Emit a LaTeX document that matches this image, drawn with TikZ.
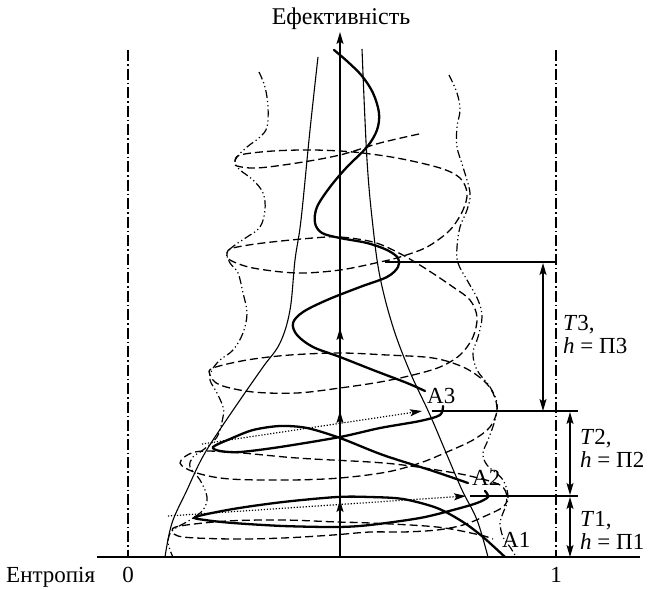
\documentclass[tikz,border=0pt]{standalone}
\usepackage{fontspec}
\setmainfont{Liberation Serif}
\usetikzlibrary{arrows.meta}
\begin{document}
\begin{tikzpicture}[x=1pt,y=-1pt,
  lbl/.style={font=\fontsize{23}{25}\selectfont, inner sep=0pt},
  arr/.style={-{Stealth[length=12pt,width=7pt,inset=2.5pt]}},
  darr/.style={{Stealth[length=12pt,width=7pt,inset=2.5pt]}-{Stealth[length=12pt,width=7pt,inset=2.5pt]}},
  funnel/.style={line width=1.1pt},
  thickc/.style={line width=2.3pt, line cap=round},
  spiral/.style={line width=1.3pt, dash pattern=on 8pt off 4pt},
  envel/.style={line width=1.2pt, dash pattern=on 8pt off 3pt on 1.2pt off 3pt on 1.2pt off 3pt},
  vdash/.style={line width=1.2pt, dash pattern=on 11pt off 3pt on 1.5pt off 3pt},
  dotl/.style={line width=1.2pt, dash pattern=on 1.2pt off 1.8pt},
  level/.style={line width=1.5pt}
]
\useasboundingbox (0,0) rectangle (650,589);

% vertical reference lines
\coordinate (v0t) at (128,50); \coordinate (v0b) at (128,557);
\coordinate (v1t) at (556,50); \coordinate (v1b) at (556,557);
\draw[vdash] (v0t) -- (v0b);
\draw[vdash] (v1t) -- (v1b);

% dashed spiral
\draw[spiral] plot[smooth, tension=0.55] coordinates {
(419,134) (380,143) (340,155) (297,163) (257,168) (237,166) (235,162) (240,155) (273,151) (313,150) (353,152) (397,158) (440,168) (460,178) (467,193) (463,210) (450,230) (427,247) (400,257) (380,262) (340,270) (297,273) (253,268) (230,260) (227,253) (233,248) (263,243) (313,238) (340,237) (373,242) (397,252) (423,267) (453,287) (470,300) (477,317) (473,337) (460,355) (440,367) (413,375) (380,382) (340,388) (297,393) (253,392) (220,385) (210,375) (213,368) (247,360) (290,355) (340,353) (387,355) (433,358) (463,367) (483,380) (493,393) (497,410) (490,427) (473,440) (447,452) (420,463) (387,472) (340,478) (290,480) (230,479) (197,473) (180,463) (195,452) (230,452) (297,458) (370,462) (403,465) (437,470) (470,476) (500,485) (507,497) (503,507) (483,517) (463,525) (437,530) (403,532) (370,532) (333,535) (283,538) (233,539) (183,537) (172,531) (180,526) (227,521) (283,520) (337,522) (370,523) (437,527) (480,535) (493,539)};

% envelopes
\draw[envel] plot[smooth, tension=0.6] coordinates {
(259,72) (265,87) (268,107) (267,127) (260,137) (247,147) (237,157) (235,163) (240,170) (253,180) (263,193) (265,210) (260,227) (247,237) (235,245) (227,253) (230,263) (238,273) (243,293) (247,313) (243,333) (233,350) (220,360) (212,370) (210,380) (217,393) (223,407) (223,417) (217,437) (203,450) (193,457) (190,467) (200,480) (207,497) (203,510) (190,520) (173,530) (168,540) (170,550) (173,557)};
\draw[envel] plot[smooth, tension=0.6] coordinates {
(449,75) (457,93) (460,110) (457,127) (457,147) (463,167) (470,193) (467,210) (460,227) (457,247) (458,263) (467,280) (478,300) (482,317) (478,337) (473,353) (477,370) (490,387) (497,403) (495,420) (488,440) (483,453) (487,465) (503,480) (508,498) (503,513) (500,523) (503,537) (510,547) (515,555)};

% funnel
\draw[funnel] plot[smooth, tension=0.6] coordinates {
(318,57) (310,130) (301,220) (295,260) (290,310) (280,343) (263,367) (240,400) (213,440) (200,462) (187,490) (172,523) (165,557)};
\draw[funnel] plot[smooth, tension=0.6] coordinates {
(362,49) (367,160) (373,227) (380,277) (393,327) (410,372) (430,415) (447,455) (462,490) (477,520) (488,557)};

% dotted arrows
\coordinate (d1s) at (168,516); \coordinate (d1e) at (466,496);
\coordinate (d2s) at (202,444); \coordinate (d2e) at (422,411);
\draw[dotl, arr] (d1s) -- (d1e);
\draw[dotl, arr] (d2s) -- (d2e);

% thick trajectory
\draw[thickc] plot[smooth, tension=0.55] coordinates {
(334,50) (348,62) (362,76) (373,93) (379,113) (377,130) (367,147) (347,167) (330,187) (317,207) (315,223) (322,233) (340,238) (367,243) (387,250) (398,258) (398,267) (387,277) (360,287) (327,300) (303,312) (293,323) (297,335) (313,347) (340,357) (373,370) (407,383) (425,391)};
\draw[thickc] plot[smooth, tension=0.5] coordinates {
(468,483) (433,471) (383,455) (340,438) (307,428) (280,426) (253,430) (230,439) (213,447) (220,451) (240,452) (280,447) (340,437) (380,428) (420,421) (440,415) (443,406)};
\draw[thickc] plot[smooth, tension=0.5] coordinates {
(505,557) (483,537) (463,522) (437,508) (403,499) (370,497) (337,497) (283,502) (233,509) (195,517) (205,520) (233,523) (283,526) (337,527) (370,525) (420,518) (453,510) (477,503) (488,497) (485,491)};

% level lines
\coordinate (l3a) at (385,262); \coordinate (l3b) at (556,262);
\coordinate (l2a) at (432,411); \coordinate (l2b) at (578,411);
\coordinate (l1a) at (470,496); \coordinate (l1b) at (578,496);
\draw[level] (l3a) -- (l3b);
\draw[level] (l2a) -- (l2b);
\draw[level] (l1a) -- (l1b);

% baseline
\coordinate (b0) at (97,557); \coordinate (b1) at (640,557);
\draw[line width=1.6pt] (b0) -- (b1);

% central axis
\coordinate (ax0) at (340,557); \coordinate (ax1) at (340,32);
\draw[line width=1.6pt, arr] (ax0) -- (ax1);
\draw[line width=1.6pt, arr] (340,514) -- (340,500);
\draw[line width=1.6pt, arr] (340,425) -- (340,411);
\draw[line width=1.6pt, arr] (340,342) -- (340,328);

% interval arrows
\coordinate (t3a) at (543,263); \coordinate (t3b) at (543,411);
\coordinate (t2a) at (570,412); \coordinate (t2b) at (570,495);
\coordinate (t1a) at (570,497); \coordinate (t1b) at (570,557);
\draw[line width=1.4pt, darr] (t3a) -- (t3b);
\draw[line width=1.4pt, darr] (t2a) -- (t2b);
\draw[line width=1.4pt, darr] (t1a) -- (t1b);

% texts
\node[lbl, font=\fontsize{24}{26}\selectfont, anchor=base] (title) at (341,24) {Ефективність};
\node[lbl, anchor=base west] (xlab) at (6,582) {Ентропія};
\node[lbl, anchor=base] (zero) at (128,582) {0};
\node[lbl, anchor=base] (one) at (556,582) {1};
\node[lbl, anchor=base west] (A3) at (427,403) {A3};
\node[lbl, anchor=base west] (A2) at (472,485) {A2};
\node[lbl, anchor=base west] (A1) at (502,547) {A1};
\node[lbl, anchor=base west] (T3a) at (563,330) {\textit{T}3,};
\node[lbl, anchor=base west] (T3b) at (563,353) {\textit{h} = П3};
\node[lbl, anchor=base west] (T2a) at (580,444) {\textit{T}2,};
\node[lbl, anchor=base west] (T2b) at (580,467) {\textit{h} = П2};
\node[lbl, anchor=base west] (T1a) at (580,526) {\textit{T}1,};
\node[lbl, anchor=base west] (T1b) at (580,549) {\textit{h} = П1};
\end{tikzpicture}
\end{document}
